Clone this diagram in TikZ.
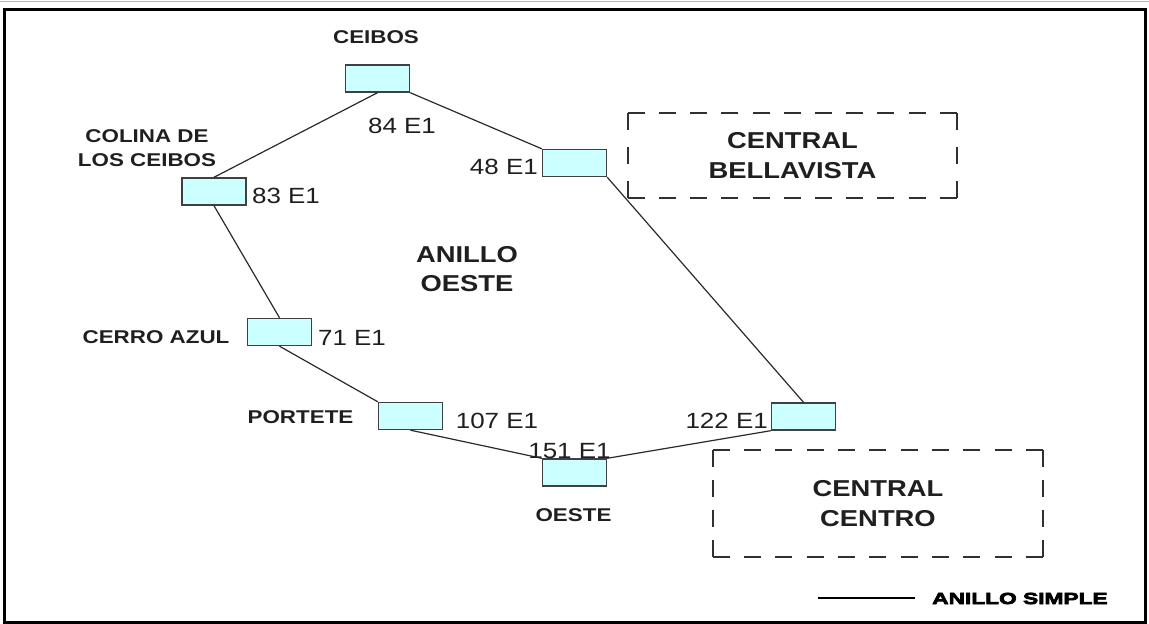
\documentclass[tikz,border=0pt]{standalone}
\usepackage{fontspec}
\setmainfont{Liberation Sans}
\newfontfamily\regf[FakeStretch=1.18]{Liberation Sans}
\newfontfamily\boldf[FakeStretch=1.21]{Liberation Sans}
\newfontfamily\bigf[FakeStretch=1.19]{Liberation Sans}
\newfontfamily\blackf[FakeStretch=1.42,BoldFeatures={FakeBold=4.5}]{Liberation Sans}
\definecolor{boxfill}{HTML}{CCFFFF}
\definecolor{boxline}{HTML}{404040}
\definecolor{wire}{HTML}{2A2A2A}
\definecolor{dashc}{HTML}{303030}
\begin{document}
\begin{tikzpicture}[x=1pt,y=-1pt,
  sitebox/.style={draw=boxline,fill=boxfill,line width=1.4pt,minimum width=64pt,minimum height=27pt,inner sep=0pt},
  link/.style={draw=wire,line width=1.2pt},
  caplbl/.style={inner sep=0pt,anchor=base,text=black!88,font={\regf\fontsize{22}{26}\selectfont}},
  sitename/.style={inner sep=0pt,anchor=base,text=black!88,font={\boldf\bfseries\fontsize{18.5}{24}\selectfont}},
  central/.style={inner sep=0pt,align=center,text=black!88,font={\bigf\bfseries\fontsize{23}{30}\selectfont}},
  dashside/.style={draw=dashc,line width=2pt}]
\useasboundingbox (0,0) rectangle (1149,624);
\draw[gray!55,line width=1.2pt] (0,1.5) -- (1149,1.5);
\draw[black,line width=3pt] (4.5,9.5) rectangle (1145,622);

% sites
\node[sitebox] (bC)   at (377.5,78.5) {};
\node[sitebox] (bCol) at (214,191.5) {};
\node[sitebox] (bB)   at (574.5,163) {};
\node[sitebox] (bCA)  at (279.5,332) {};
\node[sitebox] (bP)   at (410.5,416) {};
\node[sitebox] (bO)   at (574.5,472.5) {};
\node[sitebox] (bX)   at (803.5,416.5) {};

% ring
\draw[link] (bC.south) -- (bCol.north);
\draw[link] (bC.south east) -- (bB.north west);
\draw[link] (bCol.south) -- (bCA.north);
\draw[link] (bCA.south) -- (bP.north west);
\draw[link] (bP.south) -- (bO.north west);
\draw[link] (bO.north east) -- (bX.south west);
\draw[link] (bB.south east) -- (bX.north);

% names
\node[sitename] (tC) at (376,43) {CEIBOS};
\node[sitename,anchor=center,align=center] (tCol) at (147,148.5) {COLINA DE\\LOS CEIBOS};
\node[sitename] (tCA) at (156,343) {CERRO AZUL};
\node[sitename] (tP) at (300.5,423) {PORTETE};
\node[sitename] (tO) at (573.5,521) {OESTE};
\node[inner sep=0pt,align=center,text=black!88,font={\bigf\bfseries\fontsize{23}{29}\selectfont}] (tRing) at (467,269.5) {ANILLO\\OESTE};

% capacities
\node[caplbl] (e84) at (402,133) {84 E1};
\node[caplbl] (e83) at (286,203) {83 E1};
\node[caplbl,anchor=base east] (e48) at (538,174) {48 E1};
\node[caplbl] (e71) at (352,345) {71 E1};
\node[caplbl] (e107) at (497,428) {107 E1};
\node[caplbl] (e151) at (569.5,458) {151 E1};
\node[caplbl,anchor=base east] (e122) at (768,428) {122 E1};

% centrals
\node[central,minimum width=329pt,minimum height=85pt] (cBV) at (792.5,155.5) {CENTRAL\\BELLAVISTA};
\draw[dashside,dash pattern=on 17pt off 14.2pt] (cBV.north west) -- (cBV.north east);
\draw[dashside,dash pattern=on 17pt off 14.2pt] (cBV.south west) -- (cBV.south east);
\draw[dashside,dash pattern=on 17pt off 17pt] (cBV.north west) -- (cBV.south west);
\draw[dashside,dash pattern=on 17pt off 17pt] (cBV.north east) -- (cBV.south east);
\node[central,minimum width=330pt,minimum height=107pt] (cCC) at (878,503.5) {CENTRAL\\CENTRO};
\draw[dashside,dash pattern=on 17pt off 14.3pt] (cCC.north west) -- (cCC.north east);
\draw[dashside,dash pattern=on 17pt off 14.3pt] (cCC.south west) -- (cCC.south east);
\draw[dashside,dash pattern=on 17pt off 13pt] (cCC.north west) -- (cCC.south west);
\draw[dashside,dash pattern=on 17pt off 13pt] (cCC.north east) -- (cCC.south east);

% legend
\coordinate (lgA) at (818,598);
\coordinate (lgB) at (915,598);
\draw[black,line width=1.5pt] (lgA) -- (lgB);
\node[inner sep=0pt,anchor=base west,font={\blackf\bfseries\fontsize{16}{18}\selectfont}] (lgT) at (932,604) {ANILLO SIMPLE};
\end{tikzpicture}
\end{document}
